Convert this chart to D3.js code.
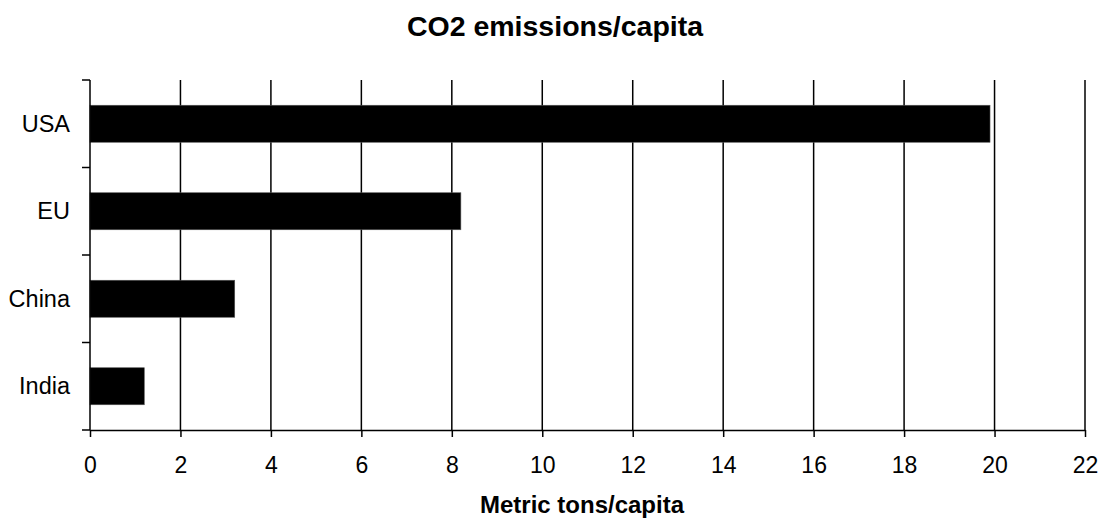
<!DOCTYPE html>
<html>
<head>
<meta charset="utf-8">
<script src="https://cdn.jsdelivr.net/npm/d3@7/dist/d3.min.js"></script>
<style>
  html, body { margin: 0; padding: 0; background: #fff; }
  svg { display: block; font-family: "Liberation Sans", Arial, sans-serif; }
</style>
</head>
<body>
<svg id="chart" width="1100" height="520"></svg>
<script>
// Per-capita CO2 emissions, metric tons
const categories = ["USA", "EU", "China", "India"];
const values = [19.9, 8.2, 3.2, 1.2];
const xTicks = [0, 2, 4, 6, 8, 10, 12, 14, 16, 18, 20, 22];
const titleText = "CO2 emissions/capita";
const xTitleText = "Metric tons/capita";

const svg = d3.select("#chart");
const plotLeft = 90, plotRight = 1085, plotTop = 80, plotBottom = 430;

const x = d3.scaleLinear().domain([0, 22]).range([plotLeft, plotRight]);
const y = d3.scaleBand().domain(categories).range([plotTop, plotBottom])
  .paddingInner(0.577).paddingOuter(0.2885);
const step = y.step();

// vertical gridlines
svg.append("g").selectAll("line")
  .data(xTicks.filter(d => d > 0))
  .join("line")
  .attr("x1", d => x(d)).attr("x2", d => x(d))
  .attr("y1", plotTop).attr("y2", plotBottom)
  .attr("stroke", "#000").attr("stroke-width", 1.5);

// bars
svg.append("g").selectAll("rect")
  .data(categories.map((c, i) => ({ c, v: values[i] })))
  .join("rect")
  .attr("x", x(0))
  .attr("y", d => y(d.c))
  .attr("width", d => x(d.v) - x(0))
  .attr("height", y.bandwidth())
  .attr("fill", "#000")
  .attr("stroke", "#555").attr("stroke-width", 0.6);

// x axis
const xAxis = d3.axisBottom(x).tickValues(xTicks).tickSize(7).tickSizeOuter(0).tickPadding(20);
const gx = svg.append("g").attr("transform", `translate(0,${plotBottom})`).call(xAxis);
gx.select(".domain").attr("stroke-width", 1.5);
gx.selectAll(".tick line").attr("stroke-width", 1.5);
gx.selectAll("text").attr("font-size", 23).attr("fill", "#000")
  .attr("font-family", "Liberation Sans, Arial, sans-serif");

// y axis: tick marks sit on the row boundaries
const gy = svg.append("g");
gy.append("line").attr("x1", plotLeft).attr("x2", plotLeft).attr("y1", plotTop).attr("y2", plotBottom)
  .attr("stroke", "#000").attr("stroke-width", 1.5);
gy.selectAll("line.tk")
  .data(d3.range(categories.length + 1))
  .join("line").attr("class", "tk")
  .attr("x1", plotLeft - 8).attr("x2", plotLeft)
  .attr("y1", i => plotTop + i * step).attr("y2", i => plotTop + i * step)
  .attr("stroke", "#000").attr("stroke-width", 1.5);
gy.selectAll("text")
  .data(categories)
  .join("text")
  .attr("x", plotLeft - 20)
  .attr("y", d => y(d) + y.bandwidth() / 2)
  .attr("dy", "0.35em")
  .attr("text-anchor", "end")
  .attr("font-size", 23.5)
  .text(d => d);

// titles
svg.append("text")
  .attr("x", 555).attr("y", 36)
  .attr("text-anchor", "middle")
  .attr("font-size", 28.5).attr("font-weight", "bold")
  .text(titleText);

svg.append("text")
  .attr("x", 582).attr("y", 513)
  .attr("text-anchor", "middle")
  .attr("font-size", 24).attr("font-weight", "bold")
  .text(xTitleText);
</script>
</body>
</html>
